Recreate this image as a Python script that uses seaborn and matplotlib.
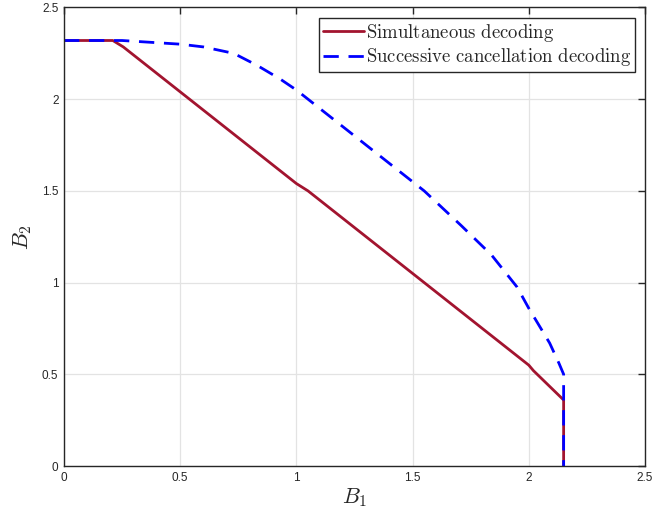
import matplotlib

matplotlib.use("Agg")
import matplotlib.pyplot as plt
import pandas as pd
import seaborn as sns

# region boundary
sim_b1 = [0.0, 0.21, 0.255, 1.0, 1.05, 2.0, 2.02, 2.15, 2.15]
sim_b2 = [2.32, 2.32, 2.285, 1.54, 1.50, 0.55, 0.52, 0.36, 0.0]

sc_b1 = [0.0, 0.25, 0.5, 0.6, 0.73, 0.83, 0.93, 1.0, 1.55, 1.71, 1.84, 1.95, 2.0, 2.09, 2.13, 2.15, 2.15]
sc_b2 = [2.32, 2.32, 2.30, 2.285, 2.25, 2.185, 2.11, 2.05, 1.50, 1.31, 1.15, 0.975, 0.86, 0.67, 0.56, 0.5, 0.0]

ticks = [0, 0.5, 1, 1.5, 2, 2.5]
tick_labels = ["0", "0.5", "1", "1.5", "2", "2.5"]

sim_label = r"$\mathrm{Simultaneous\ decoding}$"
sc_label = r"$\mathrm{Successive\ cancellation\ decoding}$"

sns.set_theme(style="whitegrid")
plt.rcParams["font.family"] = ["Liberation Sans", "DejaVu Sans"]
plt.rcParams["mathtext.fontset"] = "cm"

fig = plt.figure(figsize=(6.52, 5.13), dpi=100)
ax = fig.add_axes([0.0982, 0.0916, 0.891, 0.8938])

sim = pd.DataFrame({"B1": sim_b1, "B2": sim_b2})
sc = pd.DataFrame({"B1": sc_b1, "B2": sc_b2})

sns.lineplot(data=sim, x="B1", y="B2", sort=False, estimator=None, ax=ax,
             color="#A2142F", linewidth=2.0, label=sim_label)
sns.lineplot(data=sc, x="B1", y="B2", sort=False, estimator=None, ax=ax,
             color="#0000FF", linewidth=2.0, linestyle=(0, (5.5, 3.5)), label=sc_label)

ax.set_xlim(0, 2.5)
ax.set_ylim(0, 2.5)
ax.set_xticks(ticks)
ax.set_xticklabels(tick_labels)
ax.set_yticks(ticks)
ax.set_yticklabels(tick_labels)
ax.tick_params(direction="in", length=5, width=1, color="#262626",
               top=True, right=True, labelsize=8.5, labelcolor="#262626", pad=4)
ax.grid(True, color="#e3e3e3", linewidth=0.9)
for spine in ax.spines.values():
    spine.set_visible(True)
    spine.set_color("#262626")
    spine.set_linewidth(1.0)

ax.set_xlabel(r"$B_1$", fontsize=16, labelpad=2)
ax.set_ylabel(r"$B_2$", fontsize=16, labelpad=6)

leg = ax.legend(loc="upper right", fontsize=13.5, frameon=True, fancybox=False,
                handlelength=2.2, handletextpad=0.1, borderpad=0.2, labelspacing=0.15,
                borderaxespad=0.55)
leg.get_frame().set_edgecolor("#262626")
leg.get_frame().set_linewidth(1.0)
leg.get_frame().set_alpha(1.0)

fig.savefig("out.png", dpi=100)
